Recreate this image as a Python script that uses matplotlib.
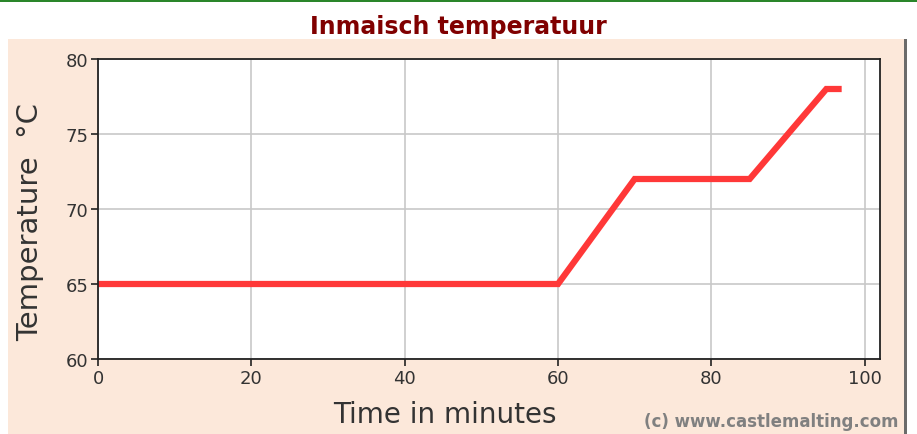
import matplotlib.pyplot as plt
from matplotlib.patches import Rectangle

# Maischschema
time_min = [0, 60, 70, 85, 95, 97]
temp_c = [65, 65, 72, 72, 78, 78]
x_ticks = [0, 20, 40, 60, 80, 100]
y_ticks = [60, 65, 70, 75, 80]

W, H = 917, 435
fig = plt.figure(figsize=(W / 100, H / 100), dpi=100)
fig.patch.set_facecolor('white')

# groene lijn bovenaan en beige paneel (achter de assen)
fig.add_artist(Rectangle((0, 1 - 3 / H), 1, 3 / H, transform=fig.transFigure,
                         color='#2a862a', lw=0, zorder=-10))
fig.add_artist(Rectangle((8 / W, 0), 897 / W, 1 - 40 / H, transform=fig.transFigure,
                         facecolor='#fce8da', edgecolor='none', zorder=-10))
fig.add_artist(Rectangle((904 / W, 0), 3 / W, 1 - 40 / H, transform=fig.transFigure,
                         facecolor='#6b6b6b', edgecolor='none', zorder=-10))

fig.text(0.5, 1 - 27 / H, "Inmaisch temperatuur", ha='center', va='center',
         fontsize=17, fontweight='bold', color='#800000')

ax = fig.add_axes([98 / W, 1 - 360 / H, (880 - 98) / W, (360 - 60) / H])
ax.set_facecolor('white')
ax.plot(time_min, temp_c, color='#ff3838', lw=4.5, solid_capstyle='butt',
        solid_joinstyle='miter')

ax.set_xlim(0, 102)
ax.set_ylim(60, 80)
ax.set_xticks(x_ticks)
ax.set_yticks(y_ticks)
ax.grid(True, color='#c8c8c8', lw=1.2)
ax.set_axisbelow(True)
for s in ax.spines.values():
    s.set_color('#222222')
    s.set_linewidth(1.3)
ax.tick_params(direction='out', length=5, width=1.2, color='#222222',
               labelsize=13, labelcolor='#333333', pad=2)

fig.text(445 / W, 1 - 415 / H, "Time in minutes", ha='center', va='center',
         fontsize=20, color='#333333')
fig.text(30 / W, 1 - 222 / H, "Temperature  °C", ha='center', va='center',
         rotation=90, fontsize=21, color='#333333')

fig.text(898 / W, 1 - 422 / H, "(c) www.castlemalting.com", ha='right', va='center',
         fontsize=12, fontweight='bold', color='#808080')

fig.savefig('out.png', dpi=100)
